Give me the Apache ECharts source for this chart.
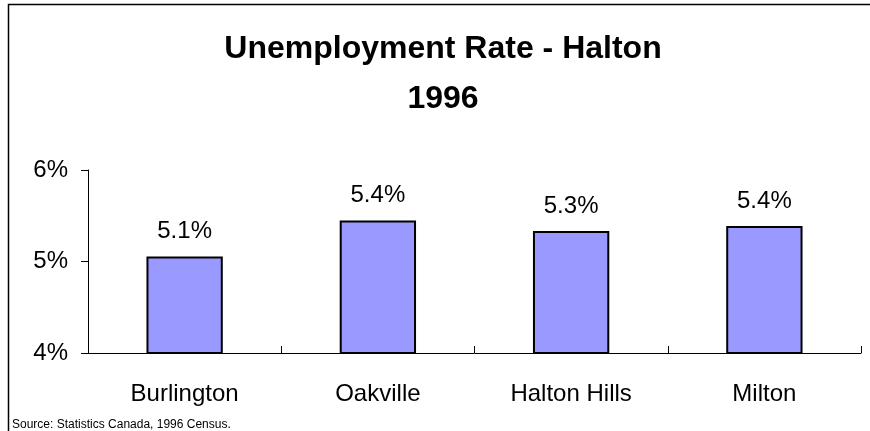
<!DOCTYPE html>
<html>
<head>
<meta charset="utf-8">
<script src="https://cdn.jsdelivr.net/npm/echarts@6/dist/echarts.min.js"></script>
<style>
html,body{margin:0;padding:0;background:#fff;}
#chart{width:870px;height:431px;}
</style>
</head>
<body>
<div id="chart"></div>
<script>
var categories = ["Burlington", "Oakville", "Halton Hills", "Milton"];
var rates = [5.055, 5.449, 5.332, 5.387];
var rateLabels = ["5.1%", "5.4%", "5.3%", "5.4%"];
var yTicks = [4, 5, 6];
var titleLines = ["Unemployment Rate - Halton", "1996"];
var sourceNote = "Source: Statistics Canada, 1996 Census.";

var FONT = "'Liberation Sans', Arial, sans-serif";
var chart = echarts.init(document.getElementById('chart'), null, {renderer: 'canvas'});
chart.setOption({
  backgroundColor: '#ffffff',
  animation: false,
  textStyle: {fontFamily: FONT},
  grid: {left: 88, right: 9, top: 170, bottom: 78, containLabel: false},
  graphic: [
    {type: 'polyline', silent: true, shape: {points: [[8.5, 431], [8.5, 4.5], [870, 4.5]]},
     style: {stroke: '#000', lineWidth: 1.5, fill: null}},
    {type: 'text', x: 443, y: 65, silent: true,
     style: {text: titleLines[0], font: 'bold 32px ' + FONT, fill: '#000', textAlign: 'center', textVerticalAlign: 'bottom', verticalAlign: 'bottom'}},
    {type: 'text', x: 443, y: 115, silent: true,
     style: {text: titleLines[1], font: 'bold 32px ' + FONT, fill: '#000', textAlign: 'center', textVerticalAlign: 'bottom', verticalAlign: 'bottom'}},
    {type: 'text', x: 12, y: 425, silent: true,
     style: {text: sourceNote, font: '12px ' + FONT, fill: '#000', textAlign: 'left', textVerticalAlign: 'middle', verticalAlign: 'middle'}}
  ],
  xAxis: {
    type: 'category',
    data: categories,
    boundaryGap: true,
    axisLine: {show: true, lineStyle: {color: '#000', width: 1}},
    axisTick: {show: true, inside: true, length: 7, interval: 0, lineStyle: {color: '#000'}},
    axisLabel: {color: '#000', fontSize: 24, fontFamily: FONT, margin: 29, interval: 0},
    splitLine: {show: false}
  },
  yAxis: {
    type: 'value',
    min: yTicks[0],
    max: yTicks[yTicks.length - 1],
    interval: 1,
    axisLine: {show: true, lineStyle: {color: '#000', width: 1}},
    axisTick: {show: true, inside: false, length: 7, lineStyle: {color: '#000'}},
    axisLabel: {color: '#000', fontSize: 24, fontFamily: FONT, margin: 20, padding: [6, 0, 0, 0],
      formatter: function (v) { return v + '%'; }},
    splitLine: {show: false}
  },
  series: [{
    type: 'bar',
    data: rates,
    barWidth: '39.5%',
    itemStyle: {color: '#9999FF', borderColor: '#000', borderWidth: 2},
    label: {
      show: true, position: 'top', distance: 13, color: '#000', fontSize: 24, fontFamily: FONT,
      formatter: function (p) { return rateLabels[p.dataIndex]; }
    }
  }]
});
</script>
</body>
</html>
